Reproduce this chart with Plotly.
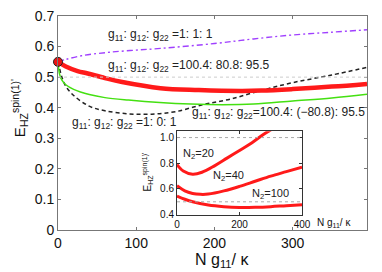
import plotly.graph_objects as go

# ---------------- main panel data ----------------
x_purple = [0, 10, 30, 60, 92, 131, 200, 250, 300, 350, 395]
y_purple = [0.55, 0.558, 0.570, 0.580, 0.587, 0.594, 0.610, 0.625, 0.638, 0.647, 0.655]

x_red = [0, 10, 25, 38, 60, 82, 131, 180, 233, 260, 300, 350, 395]
y_red = [0.55, 0.535, 0.520, 0.512, 0.497, 0.484, 0.464, 0.458, 0.455, 0.456, 0.461, 0.469, 0.478]

x_green = [0, 2, 5, 10, 20, 40, 60, 90, 130, 170, 210, 250, 300, 350, 395]
y_green = [0.55, 0.51, 0.49, 0.475, 0.46, 0.443, 0.433, 0.425, 0.417, 0.412, 0.41, 0.412, 0.422, 0.432, 0.444]

x_black = [0, 5, 10, 20, 40, 60, 90, 120, 150, 185, 220, 259, 300, 350, 395]
y_black = [0.55, 0.50, 0.47, 0.44, 0.405, 0.39, 0.38, 0.379, 0.387, 0.41, 0.428, 0.456, 0.482, 0.507, 0.532]

x_start = [0]
y_start = [0.55]

# ---------------- inset data ----------------
x_n20 = [0, 20, 50, 80, 120, 160, 200, 240, 280, 300]
y_n20 = [0.79, 0.74, 0.715, 0.73, 0.78, 0.84, 0.90, 0.96, 1.03, 1.06]

x_n40 = [0, 25, 50, 75, 100, 150, 200, 250, 300, 350, 400]
y_n40 = [0.625, 0.585, 0.565, 0.558, 0.56, 0.585, 0.62, 0.66, 0.70, 0.735, 0.77]

x_n100 = [0, 25, 50, 100, 150, 200, 250, 300, 350, 400]
y_n100 = [0.545, 0.52, 0.50, 0.475, 0.462, 0.456, 0.457, 0.462, 0.47, 0.477]

main_xticks = [0, 100, 200, 300]
main_yticks = [0, 0.1, 0.2, 0.3, 0.4, 0.5, 0.6, 0.7]
main_yticklabels = ["0", "0.1", "0.2", "0.3", "0.4", "0.5", "0.6", "0.7"]
inset_xticks = [0, 200, 400]
inset_yticks = [0.4, 0.6, 0.8, 1.0]
inset_yticklabels = ["0.4", "0.6", "0.8", "1.0"]

FONT = "Liberation Sans"

# plot-area geometry in page pixels (page has an 8px body offset)
PL, PR, PT, PB = 58, 367, 7, 230


def px(xp):
    return (xp - PL) / (PR - PL)


def py(yp):
    return (PB - yp) / (PB - PT)


fig = go.Figure()

fig.add_trace(go.Scatter(x=x_purple, y=y_purple, mode="lines",
                         line=dict(color="#a040ff", width=1.4, dash="6px,3px,2px,3px", shape="spline")))
fig.add_trace(go.Scatter(x=x_black, y=y_black, mode="lines",
                         line=dict(color="#222222", width=1.5, dash="4px,3px", shape="spline")))
fig.add_trace(go.Scatter(x=x_green, y=y_green, mode="lines", line=dict(color="#44e011", width=1.5, shape="spline")))
fig.add_trace(go.Scatter(x=x_red, y=y_red, mode="lines", line=dict(color="#ff1a1a", width=4.5, shape="spline")))
fig.add_trace(go.Scatter(x=x_start, y=y_start, mode="markers", cliponaxis=False,
                         marker=dict(color="#ee1111", size=9, line=dict(color="#222222", width=1))))

for xs, ys in [(x_n20, y_n20), (x_n40, y_n40), (x_n100, y_n100)]:
    fig.add_trace(go.Scatter(x=xs, y=ys, mode="lines", xaxis="x2", yaxis="y2",
                             line=dict(color="#ff1a1a", width=3, shape="spline")))

ax_common = dict(showgrid=False, zeroline=False, showline=True, linecolor="#777777", linewidth=1,
                 mirror="ticks", ticks="inside", ticklen=3, tickcolor="#777777", ticklabeloverflow="allow")

fig.update_layout(
    width=374, height=264,
    margin=dict(l=PL - 8, r=374 - (PR - 8), t=PT - 7, b=264 - (PB - 8)),
    paper_bgcolor="white", plot_bgcolor="white",
    showlegend=False,
    font=dict(family=FONT, color="#111111"),
    xaxis=dict(range=[0, 395], tickvals=main_xticks, tickfont=dict(size=14), **ax_common),
    yaxis=dict(range=[0, 0.7], tickvals=main_yticks, ticktext=main_yticklabels, tickfont=dict(size=14), **ax_common),
    xaxis2=dict(domain=[px(177), px(302)], anchor="y2", range=[0, 400], tickvals=inset_xticks,
                tickfont=dict(size=10), showgrid=False, zeroline=False, showline=True, linecolor="#333333",
                mirror="ticks", ticks="inside", ticklen=3, tickcolor="#333333", ticklabeloverflow="allow"),
    yaxis2=dict(domain=[py(214), py(127)], anchor="x2", range=[0.4, 1.05], tickvals=inset_yticks,
                ticktext=inset_yticklabels, tickfont=dict(size=10), showgrid=False, zeroline=False,
                showline=True, linecolor="#333333", mirror="ticks", ticks="inside", ticklen=3,
                tickcolor="#333333", ticklabeloverflow="allow"),
)

# dotted reference lines
fig.add_shape(type="line", xref="x", yref="y", x0=0, x1=395, y0=0.5, y1=0.5,
              line=dict(color="#cccccc", width=1, dash="dot"))
for yv in [1.0, 0.5]:
    fig.add_shape(type="line", xref="x2", yref="y2", x0=0, x1=400, y0=yv, y1=yv,
                  line=dict(color="#aaaaaa", width=1, dash="dot"))

G = "g<sub>11</sub>: g<sub>12</sub>: g<sub>22</sub>"
ann = [
    dict(text=G + " =1: 1: 1", x=106, y=27, xanchor="left"),
    dict(text=G + " =100.4: 80.8: 95.5", x=106, y=59, xanchor="left"),
    dict(text=G + " =1: 0: 1", x=70, y=118, xanchor="left"),
    dict(text=G + "=100.4: (\u221280.8): 95.5", x=367, y=108, xanchor="right"),
]
for a in ann:
    fig.add_annotation(text=a["text"], x=px(a["x"]), y=py(a["y"]), xref="paper", yref="paper",
                       xanchor=a["xanchor"], yanchor="middle", showarrow=False,
                       font=dict(size=12, family=FONT, color="#222222"))

# inset curve labels
for txt, xx, yy in [("N<sub>2</sub>=20", 198, 151), ("N<sub>2</sub>=40", 228, 174), ("N<sub>2</sub>=100", 270, 193)]:
    fig.add_annotation(text=txt, x=px(xx), y=py(yy), xref="paper", yref="paper",
                       xanchor="center", yanchor="middle", showarrow=False,
                       font=dict(size=11, family=FONT, color="#222222"))

# axis titles
fig.add_annotation(text="N g<sub>11</sub>/ \u03ba", x=px(222), y=py(262), xref="paper", yref="paper",
                   xanchor="center", yanchor="middle", showarrow=False, font=dict(size=16, family=FONT, color="#111111"))
fig.add_annotation(text="E<sub>HZ</sub><sup>spin(1)'</sup>", x=px(19), y=py(103), xref="paper", yref="paper",
                   xanchor="center", yanchor="middle", showarrow=False, textangle=-90,
                   font=dict(size=15, family=FONT, color="#111111"))
fig.add_annotation(text="N g<sub>11</sub>/ \u03ba", x=px(315), y=py(223), xref="paper", yref="paper",
                   xanchor="left", yanchor="middle", showarrow=False, font=dict(size=10, family=FONT, color="#111111"))
fig.add_annotation(text="E<sub>HZ</sub><sup>spin(1)'</sup>", x=px(147), y=py(170), xref="paper", yref="paper",
                   xanchor="center", yanchor="middle", showarrow=False, textangle=-90,
                   font=dict(size=10, family=FONT, color="#111111"))

fig.write_html("out.html")
